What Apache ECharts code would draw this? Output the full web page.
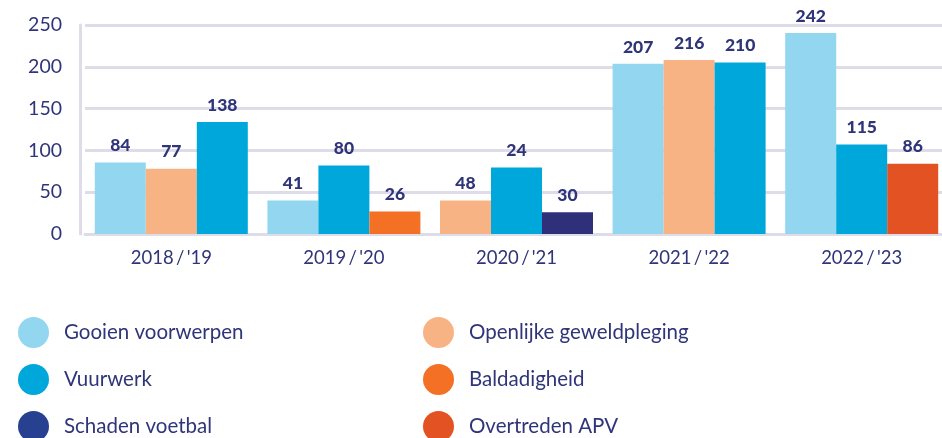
<!DOCTYPE html>
<html>
<head>
<meta charset="utf-8">
<script src="https://cdn.jsdelivr.net/npm/echarts@6/dist/echarts.min.js"></script>
<style>
html,body{margin:0;padding:0;background:#fff;overflow:hidden;}
#chart{width:948px;height:438px;}
</style>
</head>
<body>
<div id="chart"></div>
<script>
// Categories and tick labels
const categories = ["2018\u2009/\u2009'19", "2019\u2009/\u2009'20", "2020\u2009/\u2009'21", "2021\u2009/\u2009'22", "2022\u2009/\u2009'23"];
const yTicks = [0, 50, 100, 150, 200, 250];

// Bar heights as drawn, and the numbers printed above them
const gooienBars = [85.5, 40, null, 203.5, 240.5];
const gooienLabels = [84, 41, null, 207, 242];
const openlijkeBars = [78, null, 40, 208, null];
const openlijkeLabels = [77, null, 48, 216, null];
const vuurwerkBars = [134, 82, 79.5, 205, 107];
const vuurwerkLabels = [138, 80, 24, 210, 115];
const baldadigheidBars = [null, 27, null, null, null];
const baldadigheidLabels = [null, 26, null, null, null];
const schadenBars = [null, null, 26, null, null];
const schadenLabels = [null, null, 30, null, null];
const overtredenBars = [null, null, null, null, 84];
const overtredenLabels = [null, null, null, null, 86];

// Which of the three bar positions a series occupies in each category
const gooienSlot = [1, 1, 1, 1, 1];
const openlijkeSlot = [2, 2, 1, 2, 2];
const vuurwerkSlot = [3, 2, 2, 3, 2];
const baldadigheidSlot = [3, 3, 3, 3, 3];
const schadenSlot = [3, 3, 3, 3, 3];
const overtredenSlot = [3, 3, 3, 3, 3];

const names = ['Gooien voorwerpen', 'Openlijke geweldpleging', 'Vuurwerk', 'Baldadigheid', 'Schaden voetbal', 'Overtreden APV'];
const colors = ['#92d6f0', '#f8b385', '#00a7db', '#f37024', '#2e3179', '#e35222'];
const legendColors = ['#92d6f0', '#f8b385', '#00a7db', '#f37024', '#27408f', '#e35222'];

const defs = [
  [gooienBars, gooienLabels, gooienSlot],
  [openlijkeBars, openlijkeLabels, openlijkeSlot],
  [vuurwerkBars, vuurwerkLabels, vuurwerkSlot],
  [baldadigheidBars, baldadigheidLabels, baldadigheidSlot],
  [schadenBars, schadenLabels, schadenSlot],
  [overtredenBars, overtredenLabels, overtredenSlot]
];

const textColor = '#2f3578';
const font = 'Lato';

const series = [];
[1, 2, 3].forEach(function (slot) {
  defs.forEach(function (d, i) {
    const bars = d[0], labels = d[1], slots = d[2];
    let any = false;
    const data = bars.map(function (v, c) {
      if (v != null && slots[c] === slot) { any = true; return v; }
      return '-';
    });
    if (!any) return;
    series.push({
      name: names[i],
      type: 'bar',
      stack: 's' + slot,
      barWidth: 51,
      barGap: '0%',
      itemStyle: { color: colors[i] },
      label: {
        show: true,
        position: 'top',
        distance: 8,
        color: textColor,
        fontFamily: font,
        fontWeight: 900,
        fontSize: 17.5,
        formatter: function (p) { return String(labels[p.dataIndex]); }
      },
      data: data
    });
  });
});

function legendItem(i) {
  return { name: names[i], itemStyle: { color: legendColors[i] } };
}

const legendCommon = {
  orient: 'vertical',
  icon: 'circle',
  itemWidth: 31,
  itemHeight: 31,
  itemGap: 16,
  top: 317,
  height: 200,
  width: 400,
  padding: 0,
  selectedMode: false,
  textStyle: { color: textColor, fontFamily: font, fontSize: 20.5, padding: [0, 0, 0, 10] }
};

const option = {
  animation: false,
  grid: { left: 85, right: 0, top: 25, bottom: 204, containLabel: false },
  legend: [
    Object.assign({}, legendCommon, { left: 18, data: [legendItem(0), legendItem(2), legendItem(4)] }),
    Object.assign({}, legendCommon, { left: 423, data: [legendItem(1), legendItem(3), legendItem(5)] })
  ],
  xAxis: {
    type: 'category',
    data: categories,
    axisTick: { show: false },
    axisLine: { show: true, lineStyle: { color: '#dddce8', width: 3 } },
    axisLabel: { color: textColor, fontFamily: font, fontSize: 18.5, margin: 15 }
  },
  yAxis: {
    type: 'value',
    min: yTicks[0],
    max: yTicks[yTicks.length - 1],
    interval: 50,
    offset: 5,
    axisLine: { show: true, lineStyle: { color: '#dddce8', width: 3 } },
    axisTick: { show: false },
    splitLine: { show: true, lineStyle: { color: '#dddce8', width: 3 } },
    axisLabel: { color: textColor, fontFamily: font, fontSize: 19.5, margin: 18 }
  },
  series: series
};

const chart = echarts.init(document.getElementById('chart'), null, { renderer: 'canvas' });
chart.setOption(option);
</script>
</body>
</html>
